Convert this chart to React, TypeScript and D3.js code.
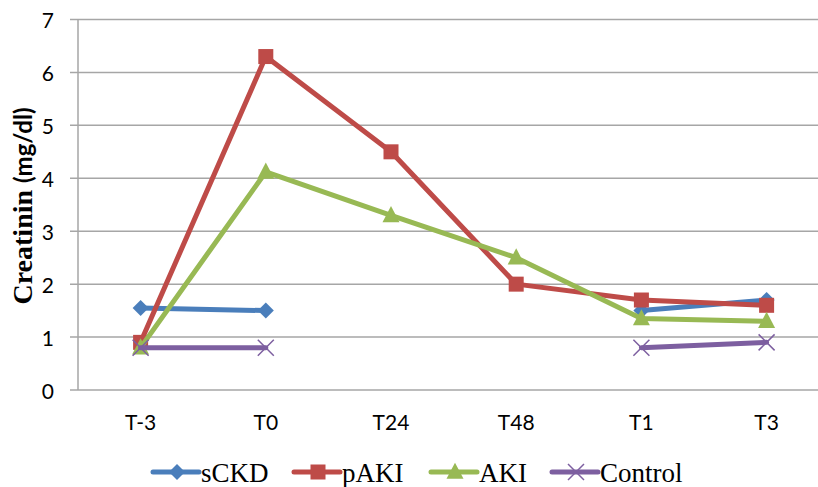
import * as d3 from "d3";

const categories = ["T-3", "T0", "T24", "T48", "T1", "T3"];
const yTicks = [0, 1, 2, 3, 4, 5, 6, 7];

const sCKD = [1.55, 1.5, null, null, 1.5, 1.7];
const pAKI = [0.9, 6.3, 4.5, 2.0, 1.7, 1.6];
const AKI = [0.8, 4.12, 3.3, 2.5, 1.35, 1.3];
const Control = [0.8, 0.8, null, null, 0.8, 0.9];

const seriesNames = ["sCKD", "pAKI", "AKI", "Control"];
const seriesColors = ["#4A7EBB", "#BE4B48", "#98B954", "#7D5FA0"];
const seriesShapes = ["diamond", "square", "triangle", "cross"];

const seriesList = [sCKD, pAKI, AKI, Control].map((values, i) => ({
  name: seriesNames[i],
  color: seriesColors[i],
  shape: seriesShapes[i],
  values,
}));

const Marker = ({
  shape,
  x,
  y,
  color,
}: {
  shape: string;
  x: number;
  y: number;
  color: string;
}) => {
  if (shape === "diamond") {
    const r = 8;
    return (
      <path
        d={`M${x},${y - r}L${x + r},${y}L${x},${y + r}L${x - r},${y}Z`}
        fill={color}
      />
    );
  }
  if (shape === "square") {
    const r = 7.5;
    return <rect x={x - r} y={y - r} width={r * 2} height={r * 2} fill={color} />;
  }
  if (shape === "triangle") {
    const r = 8.5;
    return (
      <path
        d={`M${x},${y - r * 1.1}L${x + r},${y + r * 0.8}L${x - r},${y + r * 0.8}Z`}
        fill={color}
      />
    );
  }
  const r = 8;
  return (
    <path
      d={`M${x - r},${y - r}L${x + r},${y + r}M${x - r},${y + r}L${x + r},${y - r}`}
      stroke={color}
      strokeWidth={1.5}
      fill="none"
    />
  );
};

export default function App() {
  const width = 818;
  const height = 487;
  const margin = { top: 19.5, left: 78, bottom: 97 };
  const band = 125.2;

  const xScale = d3
    .scaleBand()
    .domain(categories)
    .range([margin.left, margin.left + band * categories.length]);

  const yScale = d3
    .scaleLinear()
    .domain([0, 7])
    .range([height - margin.bottom, margin.top]);

  const xc = (c: string) => (xScale(c) || 0) + xScale.bandwidth() / 2;

  const line = d3
    .line<number | null>()
    .defined((d) => d !== null)
    .x((_, i) => xc(categories[i]))
    .y((d) => yScale(d as number));

  // legend entry start positions
  const legendX = [153, 294, 431, 552];
  const legendY = 472;

  return (
    <div style={{ position: "absolute", left: 0, top: 0 }}>
      <svg width={width} height={height} style={{ display: "block", background: "#fff" }}>
        {/* gridlines */}
        {yTicks.map((t) => (
          <line
            key={`g${t}`}
            x1={margin.left - 8}
            x2={width}
            y1={yScale(t)}
            y2={yScale(t)}
            stroke="#A6A6A6"
            strokeWidth={1.5}
          />
        ))}
        <line
          x1={margin.left}
          x2={margin.left}
          y1={yScale(7)}
          y2={yScale(0)}
          stroke="#A6A6A6"
          strokeWidth={1.5}
        />

        {/* y tick labels */}
        {yTicks.map((t) => (
          <text
            key={`yl${t}`}
            x={54}
            y={yScale(t)}
            textAnchor="end"
            dominantBaseline="central"
            fontFamily="Lato, 'Open Sans', sans-serif"
            fontSize={21}
            fill="#000"
          >
            {t}
          </text>
        ))}

        {/* x tick labels */}
        {categories.map((c) => (
          <text
            key={`xl${c}`}
            x={xc(c)}
            y={430}
            textAnchor="middle"
            fontFamily="Lato, 'Open Sans', sans-serif"
            fontSize={21}
            fill="#000"
          >
            {c}
          </text>
        ))}

        {/* y axis title: serif word + sans units */}
        <text
          transform={`translate(32,206) rotate(-90)`}
          textAnchor="middle"
          fontWeight="bold"
          fill="#000"
        >
          <tspan fontFamily="'Liberation Serif', 'Times New Roman', serif" fontSize={28}>
            Creatinin{" "}
          </tspan>
          <tspan fontFamily="Lato, 'Open Sans', sans-serif" fontSize={24}>
            (mg/dl)
          </tspan>
        </text>

        {/* series */}
        {seriesList.map((s) => (
          <g key={s.name}>
            <path
              d={line(s.values) || ""}
              fill="none"
              stroke={s.color}
              strokeWidth={5}
              strokeLinejoin="round"
              strokeLinecap="round"
            />
            {s.values.map((v, i) =>
              v === null ? null : (
                <Marker
                  key={i}
                  shape={s.shape}
                  x={xc(categories[i])}
                  y={yScale(v)}
                  color={s.color}
                />
              )
            )}
          </g>
        ))}

        {/* legend */}
        {seriesList.map((s, i) => (
          <g key={`lg${s.name}`}>
            <line
              x1={legendX[i]}
              x2={legendX[i] + 46}
              y1={legendY}
              y2={legendY}
              stroke={s.color}
              strokeWidth={5}
              strokeLinecap="round"
            />
            <Marker shape={s.shape} x={legendX[i] + 24} y={legendY} color={s.color} />
            <text
              x={legendX[i] + 48}
              y={legendY + 1}
              dominantBaseline="central"
              fontFamily="'Liberation Serif', 'Times New Roman', serif"
              fontSize={27}
              fill="#000"
            >
              {s.name}
            </text>
          </g>
        ))}
      </svg>
    </div>
  );
}
